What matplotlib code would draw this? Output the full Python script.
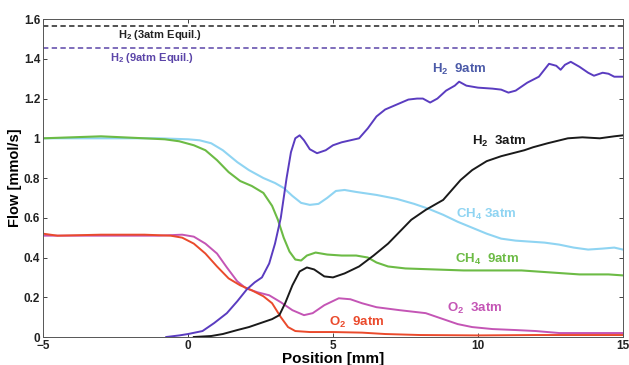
import numpy as np
import matplotlib
matplotlib.use("Agg")
import matplotlib.pyplot as plt

plt.rcParams['font.family'] = ['Liberation Sans', 'DejaVu Sans']
plt.rcParams['font.weight'] = 'bold'
plt.rcParams['axes.labelweight'] = 'bold'
plt.rcParams['mathtext.fontset'] = 'custom'
plt.rcParams['mathtext.bf'] = 'Liberation Sans:bold'
plt.rcParams['mathtext.rm'] = 'Liberation Sans:bold'

# Flow profiles along the reactor (position in mm, flow in mmol/s)
ch4_3_x = [-5, -3, -1, 0, 0.4, 0.8, 1.2, 1.7, 2.1, 2.6, 3.0, 3.3, 3.6, 3.9, 4.2, 4.5, 4.8, 5.1, 5.4, 5.8, 6.5, 7.2, 7.8,
           8.3, 8.8, 9.3, 9.8, 10.3, 10.8, 11.3, 11.8, 12.3, 12.8, 13.3, 13.8, 14.3, 14.7, 15]
ch4_3_y = [1.0, 1.0, 1.0, 0.995, 0.99, 0.975, 0.94, 0.88, 0.84, 0.80, 0.775, 0.75, 0.71, 0.675, 0.665, 0.67, 0.70, 0.735,
           0.74, 0.73, 0.715, 0.695, 0.67, 0.645, 0.615, 0.58, 0.55, 0.52, 0.495, 0.485, 0.48, 0.475, 0.465, 0.45, 0.44,
           0.445, 0.45, 0.44]

ch4_9_x = [-5, -3, -1.5, -0.8, -0.3, 0.2, 0.6, 1.0, 1.4, 1.8, 2.2, 2.6, 2.9, 3.1, 3.3, 3.5, 3.7, 3.9, 4.1, 4.4, 4.8,
           5.3, 5.8, 6.2, 6.5, 6.9, 7.5, 8.5, 9.5, 10.5, 11.5, 12.5, 13.5, 14.5, 15]
ch4_9_y = [1.0, 1.01, 1.0, 0.995, 0.985, 0.965, 0.94, 0.89, 0.83, 0.785, 0.76, 0.725, 0.66, 0.59, 0.50, 0.43, 0.39,
           0.385, 0.41, 0.425, 0.415, 0.41, 0.41, 0.40, 0.375, 0.355, 0.345, 0.34, 0.335, 0.335, 0.335, 0.325, 0.315,
           0.315, 0.31]

o2_9_x = [-5, -4.5, -3, -1.5, -0.6, -0.2, 0.2, 0.6, 1.0, 1.4, 1.8, 2.2, 2.6, 2.9, 3.2, 3.45, 3.7, 4.2, 5.0, 6.0, 6.8,
          8.0, 10.0, 12.0, 15]
o2_9_y = [0.52, 0.51, 0.515, 0.515, 0.51, 0.50, 0.47, 0.42, 0.355, 0.295, 0.26, 0.235, 0.205, 0.17, 0.10, 0.05, 0.03,
          0.025, 0.025, 0.022, 0.015, 0.01, 0.008, 0.01, 0.01]

o2_3_x = [-5, -3, -1, -0.2, 0.2, 0.6, 1.0, 1.34, 1.7, 2.0, 2.4, 2.8, 3.2, 3.6, 4.0, 4.3, 4.7, 5.2, 5.6, 6.0, 6.5, 7.3,
          8.2, 8.8, 9.3, 9.8, 10.5, 11.3, 12.0, 12.8, 15]
o2_3_y = [0.51, 0.51, 0.51, 0.515, 0.505, 0.47, 0.42, 0.35, 0.28, 0.245, 0.225, 0.21, 0.175, 0.135, 0.11, 0.12, 0.16,
          0.195, 0.19, 0.17, 0.15, 0.135, 0.12, 0.09, 0.065, 0.05, 0.04, 0.035, 0.03, 0.02, 0.02]

h2_9_x = [-0.75, -0.3, 0.0, 0.5, 0.9, 1.34, 1.7, 2.03, 2.3, 2.55, 2.8, 3.0, 3.2, 3.4, 3.55, 3.7, 3.85, 4.0, 4.2, 4.45,
          4.75, 5.0, 5.3, 5.6, 5.9, 6.2, 6.5, 6.8, 7.2, 7.6, 7.9, 8.1, 8.35, 8.6, 8.9, 9.2, 9.35, 9.6, 10.0, 10.5, 10.8,
          11.05, 11.3, 11.7, 12.1, 12.45, 12.7, 12.85, 13.0, 13.2, 13.5, 13.8, 14.0, 14.3, 14.5, 14.7, 15]
h2_9_y = [0.0, 0.008, 0.015, 0.03, 0.07, 0.12, 0.18, 0.24, 0.275, 0.30, 0.37, 0.47, 0.60, 0.80, 0.93, 1.0, 1.015, 0.99,
          0.945, 0.925, 0.94, 0.965, 0.98, 0.99, 1.0, 1.05, 1.11, 1.145, 1.17, 1.195, 1.2, 1.2, 1.18, 1.2, 1.24, 1.265,
          1.285, 1.265, 1.255, 1.25, 1.245, 1.23, 1.24, 1.28, 1.31, 1.375, 1.365, 1.345, 1.37, 1.385, 1.36, 1.33, 1.315,
          1.33, 1.325, 1.31, 1.31]

h2_3_x = [0.2, 0.8, 1.2, 1.7, 2.1, 2.5, 2.9, 3.15, 3.35, 3.6, 3.85, 4.1, 4.35, 4.7, 5.0, 5.4, 5.9, 6.4, 6.9, 7.3, 7.7,
          8.2, 8.8, 9.1, 9.4, 9.8, 10.3, 10.8, 11.2, 11.6, 11.9, 12.4, 13.1, 13.6, 14.2, 14.7, 15]
h2_3_y = [0.0, 0.005, 0.015, 0.035, 0.05, 0.07, 0.09, 0.11, 0.17, 0.26, 0.33, 0.35, 0.34, 0.305, 0.30, 0.32, 0.355,
          0.41, 0.47, 0.53, 0.59, 0.64, 0.69, 0.74, 0.79, 0.84, 0.885, 0.91, 0.925, 0.94, 0.955, 0.975, 1.0, 1.005, 1.0,
          1.01, 1.015]

h2_eq_3 = 1.565
h2_eq_9 = 1.454

fig = plt.figure(figsize=(6.29, 3.65), dpi=100)
ax = fig.add_axes([0.0684, 0.0767, 0.922, 0.871])

ax.axhline(h2_eq_3, color='#222222', ls=(0, (3.5, 2.2)), lw=1.1)
ax.axhline(h2_eq_9, color='#5b45a8', ls=(0, (3.5, 2.2)), lw=1.1)

ax.plot(ch4_3_x, ch4_3_y, color='#8fd4f2', lw=1.5)
ax.plot(ch4_9_x, ch4_9_y, color='#6cbb45', lw=1.5)
ax.plot(o2_3_x, o2_3_y, color='#c455b5', lw=1.4)
ax.plot(o2_9_x, o2_9_y, color='#ea4a2c', lw=1.4)
ax.plot(h2_9_x, h2_9_y, color='#5a3cc0', lw=1.4)
ax.plot(h2_3_x, h2_3_y, color='#1a1a1a', lw=1.4)

# curve labels
ax.text(-0.95, 1.522, r'H$_\mathbf{2}$ (3atm Equil.)', fontsize=8, color='#222222', ha='center', va='center')
ax.text(-1.25, 1.405, r'H$_\mathbf{2}$ (9atm Equil.)', fontsize=8, color='#5b45a8', ha='center', va='center')
ax.text(9.35, 1.345, r'H$_\mathbf{2}$  9atm', fontsize=9.5, color='#4b5aa8', ha='center', va='center')
ax.text(10.75, 0.985, r'H$_\mathbf{2}$  3atm', fontsize=9.5, color='#1a1a1a', ha='center', va='center')
ax.text(10.3, 0.615, r'CH$_\mathbf{4}$ 3atm', fontsize=9.5, color='#8fd4f2', ha='center', va='center')
ax.text(10.3, 0.39, r'CH$_\mathbf{4}$  9atm', fontsize=9.5, color='#6cbb45', ha='center', va='center')
ax.text(9.9, 0.145, r'O$_\mathbf{2}$  3atm', fontsize=9.5, color='#c455b5', ha='center', va='center')
ax.text(5.8, 0.075, r'O$_\mathbf{2}$  9atm', fontsize=9.5, color='#ea4a2c', ha='center', va='center')

ax.set_xlim(-5, 15)
ax.set_ylim(0, 1.6)
ax.set_xticks([-5, 0, 5, 10, 15])
ax.set_yticks([0, 0.2, 0.4, 0.6, 0.8, 1.0, 1.2, 1.4, 1.6])
ax.set_yticklabels(['0', '0.2', '0.4', '0.6', '0.8', '1', '1.2', '1.4', '1.6'])
ax.tick_params(direction='in', length=3, width=0.6, top=True, right=True, labelsize=8.5, colors='#222222', pad=2)
for lbl in ax.get_xticklabels() + ax.get_yticklabels():
    lbl.set_fontweight('bold')
for s in ax.spines.values():
    s.set_linewidth(0.7)
    s.set_color('#555555')

ax.set_xlabel('Position [mm]', fontsize=11, fontweight='bold', labelpad=0)
ax.set_ylabel('Flow [mmol/s]', fontsize=10.5, fontweight='bold', labelpad=1)

fig.savefig('out.png', dpi=100)
